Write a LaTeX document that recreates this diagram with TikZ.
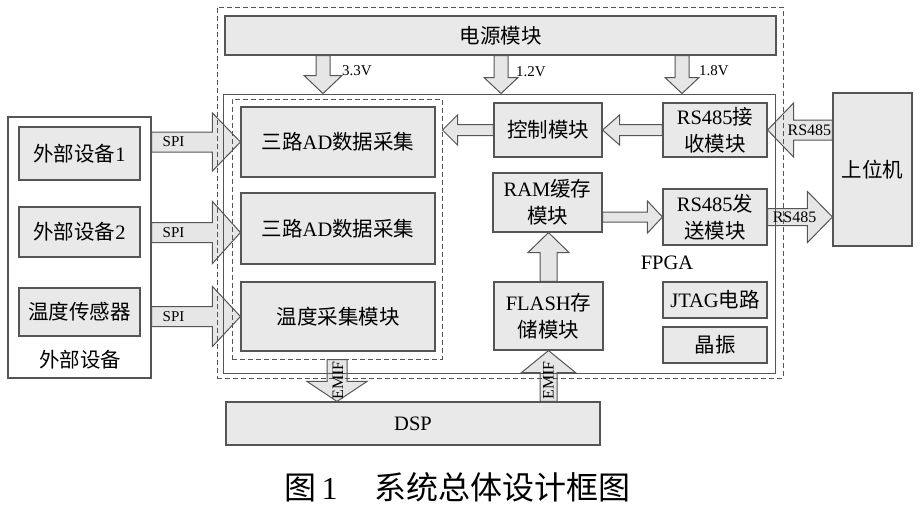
\documentclass[tikz,border=0pt]{standalone}
\usepackage{fontspec}
\setmainfont{Liberation Serif}
\newfontfamily\cjk{Noto Sans CJK SC}
\usetikzlibrary{calc}
\pgfdeclarelayer{bg}
\pgfsetlayers{bg,main}
\definecolor{boxfill}{RGB}{233,233,233}
\definecolor{arrfill}{RGB}{230,230,230}
\definecolor{edge}{RGB}{85,85,85}
\newcommand\zh[1]{{\cjk #1}}
\newcommand\boxfont{\fontsize{20.5}{27}\selectfont}
\newcommand\lblfont{\fontsize{15}{17}\selectfont}
\newcommand\lblfontb{\fontsize{16}{18}\selectfont}
\newcommand\mkbox[6]{\node[#6, minimum width={#4-#2}, minimum height={#5-#3}] (#1) at ({(#2+#4)/2},{(#3+#5)/2})}
% block arrow: #1 start, #2 tip, #3 shaft half width, #4 head half width, #5 head length
\newcommand\blockarrow[5]{%
  \draw[blockarr] let \p1=(#1), \p2=(#2),
    \n1={veclen(\x2-\x1,\y2-\y1)},
    \n2={(\x2-\x1)/\n1}, \n3={(\y2-\y1)/\n1} in
    ({\x1-\n3*#3}, {\y1+\n2*#3})
    -- ({\x2-\n2*#5-\n3*#3}, {\y2-\n3*#5+\n2*#3})
    -- ({\x2-\n2*#5-\n3*#4}, {\y2-\n3*#5+\n2*#4})
    -- (\p2)
    -- ({\x2-\n2*#5+\n3*#4}, {\y2-\n3*#5-\n2*#4})
    -- ({\x2-\n2*#5+\n3*#3}, {\y2-\n3*#5-\n2*#3})
    -- ({\x1+\n3*#3}, {\y1-\n2*#3}) -- cycle;}
\tikzset{
  box/.style={draw=edge, fill=boxfill, line width=1.1pt, inner sep=0pt, align=center, font=\boxfont},
  wbox/.style={draw=edge, line width=1.1pt, inner sep=0pt},
  frame/.style={draw=edge, line width=1pt, inner sep=0pt},
  dframe/.style={draw=edge, line width=1pt, inner sep=0pt, dash pattern=on 5pt off 3pt},
  blockarr/.style={draw=edge, fill=arrfill, line width=1pt, line join=miter},
  lbl/.style={font=\lblfont, inner sep=0pt},
  lblb/.style={font=\lblfontb, inner sep=0pt},
  txt/.style={font=\boxfont, inner sep=0pt},
}
\begin{document}
\begin{tikzpicture}[x=1pt, y=-1pt]
\useasboundingbox (0,0) rectangle (920,509);
% frames
\mkbox{outer}{217}{7}{783}{378}{dframe}{};
\mkbox{fpga}{223}{94}{775}{373}{frame}{};
\mkbox{addash}{232}{99}{442}{359}{dframe}{};
% boxes
\mkbox{power}{225}{16}{776}{55}{box}{\zh{电源模块}};
\mkbox{ad1}{241}{107}{435}{177}{box}{\zh{三路}AD\zh{数据采集}};
\mkbox{ad2}{241}{193}{435}{264}{box}{\zh{三路}AD\zh{数据采集}};
\mkbox{temp}{241}{282}{435}{351}{box}{\zh{温度采集模块}};
\mkbox{ctrl}{494}{103}{602}{157}{box}{\zh{控制模块}};
\mkbox{rxb}{663}{103}{767}{157}{box}{RS485\zh{接}\\\zh{收模块}};
\mkbox{ram}{493}{173}{602}{232}{box}{RAM\zh{缓存}\\\zh{模块}};
\mkbox{txb}{663}{189}{767}{245}{box}{RS485\zh{发}\\\zh{送模块}};
\mkbox{flash}{494}{282}{603}{350}{box}{FLASH\zh{存}\\\zh{储模块}};
\mkbox{jtag}{663}{282}{767}{318}{box}{JTAG\zh{电路}};
\mkbox{osc}{663}{327}{767}{363}{box}{\zh{晶振}};
\mkbox{host}{833}{93}{912}{246}{box}{\zh{上位机}};
\mkbox{ext}{8}{117}{151}{378}{wbox}{};
\mkbox{ext1}{19}{127}{140}{180}{box}{\zh{外部设备}1};
\mkbox{ext2}{19}{207}{140}{257}{box}{\zh{外部设备}2};
\mkbox{tsens}{19}{288}{140}{336}{box}{\zh{温度传感器}};
\mkbox{dsp}{226}{402}{600}{445}{box}{DSP};
\node[txt] (extlbl) at (80,360) {\zh{外部设备}};
\node[txt] (fpgalbl) at (667,263) {FPGA};
% power rails
\coordinate (v33) at (323,0);
\coordinate (v12) at (501,0);
\coordinate (v18) at (682,0);
\begin{pgfonlayer}{bg}
\blockarrow{power.south -| v33}{fpga.north -| v33}{7}{19}{18}
\blockarrow{power.south -| v12}{fpga.north -| v12}{7}{17}{16}
\blockarrow{power.south -| v18}{fpga.north -| v18}{7}{17}{16}
\blockarrow{ext.east |- ad1.west}{ad1.west}{10}{29}{28}
\blockarrow{$(ext.east |- ad2.west)+(0,4)$}{$(ad2.west)+(0,4)$}{10}{31}{28}
\blockarrow{ext.east |- temp.west}{temp.west}{10}{30}{28}
\blockarrow{ctrl.west}{addash.east |- ctrl.west}{5.5}{15}{15}
\blockarrow{rxb.west}{ctrl.east}{5.5}{15}{17}
\blockarrow{ram.east |- txb.west}{txb.west}{5}{16}{15}
\blockarrow{host.west |- rxb.east}{rxb.east}{10}{27}{26}
\blockarrow{txb.east}{host.west |- txb.east}{8.5}{25.5}{25}
\blockarrow{flash.north}{ram.south -| flash.north}{8.5}{20.5}{20}
\blockarrow{addash.south}{dsp.north -| addash.south}{10}{30}{20}
\blockarrow{dsp.north -| flash.south}{flash.south}{8.5}{27}{22}
\end{pgfonlayer}
% labels
\node[lbl, anchor=west] (l33) at (342,71) {3.3V};
\node[lbl, anchor=west] (l12) at (516,72) {1.2V};
\node[lbl, anchor=west] (l18) at (699,71) {1.8V};
\node[lbl] (spi1) at ($(ext.east |- ad1.west)+(22,0)$) {SPI};
\node[lbl] (spi2) at ($(ext.east |- ad2.west)+(22,4)$) {SPI};
\node[lbl] (spi3) at ($(ext.east |- temp.west)+(22,0)$) {SPI};
\node[lblb] (rxl) at ($(host.west |- rxb.east)+(-23,0)$) {RS485};
\node[lblb] (txl) at ($(txb.east)+(27,0)$) {RS485};
\node[lblb, rotate=90] (emif1) at ($(addash.south)+(1,21)$) {EMIF};
\node[lblb, rotate=90] (emif2) at ($(dsp.north -| flash.south)+(0,-21)$) {EMIF};
% caption
\node[anchor=west, inner sep=0pt, font=\fontsize{32}{32}\selectfont] (cap) at (284,487) {\zh{图}\,1\hspace{37pt}\zh{系统总体设计框图}};
\end{tikzpicture}
\end{document}
